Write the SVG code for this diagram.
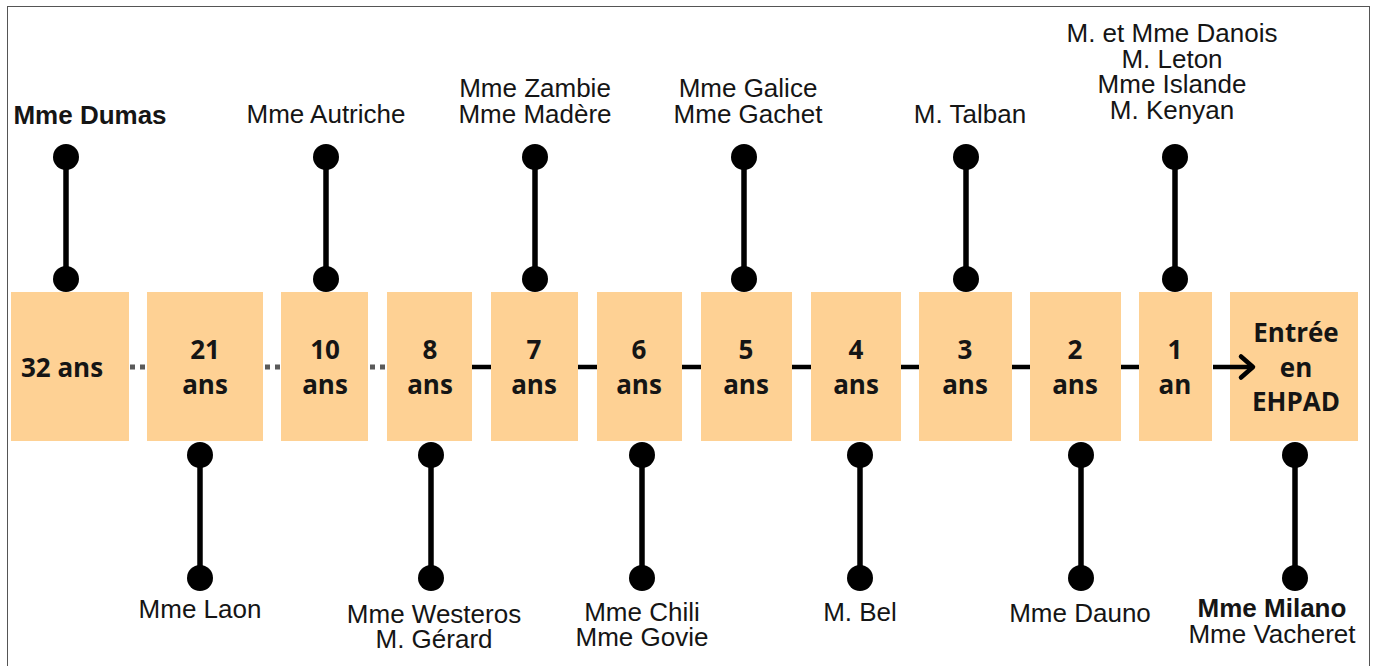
<svg xmlns="http://www.w3.org/2000/svg" width="1376" height="666" viewBox="0 0 1376 666">
<defs>
<style>
.box{fill:#FED194;}
.bt{font-family:"Open Sans","DejaVu Sans",sans-serif;font-weight:700;font-size:26px;fill:#151515;text-anchor:middle;}
.lbl{font-family:"Liberation Sans",Arial,sans-serif;font-size:26px;fill:#151515;text-anchor:middle;}
.b{font-weight:700;}
.stem{stroke:#000;stroke-width:5.5;}
.dot{fill:#000;}
.solid{stroke:#000;stroke-width:4.5;fill:none;}
.dots{stroke:#5a5a5a;stroke-width:5;stroke-dasharray:5 5;fill:none;}
</style>
</defs>
<rect x="0" y="0" width="1376" height="666" fill="#fff"/>
<rect x="7.5" y="6.5" width="1362" height="700" fill="none" stroke="#555" stroke-width="1"/>

<g id="pins">
<g id="pin-dumas"><line class="stem" x1="66" y1="157" x2="66" y2="279"/><circle class="dot" cx="66" cy="157" r="13"/><circle class="dot" cx="66" cy="279" r="13"/></g>
<g id="pin-autriche"><line class="stem" x1="326" y1="157" x2="326" y2="279"/><circle class="dot" cx="326" cy="157" r="13"/><circle class="dot" cx="326" cy="279" r="13"/></g>
<g id="pin-zambie"><line class="stem" x1="535" y1="157" x2="535" y2="279"/><circle class="dot" cx="535" cy="157" r="13"/><circle class="dot" cx="535" cy="279" r="13"/></g>
<g id="pin-galice"><line class="stem" x1="744" y1="157" x2="744" y2="279"/><circle class="dot" cx="744" cy="157" r="13"/><circle class="dot" cx="744" cy="279" r="13"/></g>
<g id="pin-talban"><line class="stem" x1="966" y1="157" x2="966" y2="279"/><circle class="dot" cx="966" cy="157" r="13"/><circle class="dot" cx="966" cy="279" r="13"/></g>
<g id="pin-danois"><line class="stem" x1="1175" y1="157" x2="1175" y2="279"/><circle class="dot" cx="1175" cy="157" r="13"/><circle class="dot" cx="1175" cy="279" r="13"/></g>
<g id="pin-laon"><line class="stem" x1="200" y1="455" x2="200" y2="578"/><circle class="dot" cx="200" cy="455" r="13"/><circle class="dot" cx="200" cy="578" r="13"/></g>
<g id="pin-westeros"><line class="stem" x1="431" y1="455" x2="431" y2="578"/><circle class="dot" cx="431" cy="455" r="13"/><circle class="dot" cx="431" cy="578" r="13"/></g>
<g id="pin-chili"><line class="stem" x1="642" y1="455" x2="642" y2="578"/><circle class="dot" cx="642" cy="455" r="13"/><circle class="dot" cx="642" cy="578" r="13"/></g>
<g id="pin-bel"><line class="stem" x1="860" y1="455" x2="860" y2="578"/><circle class="dot" cx="860" cy="455" r="13"/><circle class="dot" cx="860" cy="578" r="13"/></g>
<g id="pin-dauno"><line class="stem" x1="1081" y1="455" x2="1081" y2="578"/><circle class="dot" cx="1081" cy="455" r="13"/><circle class="dot" cx="1081" cy="578" r="13"/></g>
<g id="pin-milano"><line class="stem" x1="1295" y1="455" x2="1295" y2="578"/><circle class="dot" cx="1295" cy="455" r="13"/><circle class="dot" cx="1295" cy="578" r="13"/></g>
</g>

<g id="n32"><rect class="box" x="11" y="292" width="118" height="149"/><text class="bt" x="62" y="377">32 ans</text></g>
<g id="n21"><rect class="box" x="147" y="292" width="116" height="149"/><text class="bt" x="205" y="359">21</text><text class="bt" x="205" y="394">ans</text></g>
<g id="n10"><rect class="box" x="281" y="292" width="87" height="149"/><text class="bt" x="325" y="359">10</text><text class="bt" x="325" y="394">ans</text></g>
<g id="n8"><rect class="box" x="387" y="292" width="85" height="149"/><text class="bt" x="430" y="359">8</text><text class="bt" x="430" y="394">ans</text></g>
<g id="n7"><rect class="box" x="491" y="292" width="87" height="149"/><text class="bt" x="534" y="359">7</text><text class="bt" x="534" y="394">ans</text></g>
<g id="n6"><rect class="box" x="597" y="292" width="85" height="149"/><text class="bt" x="639" y="359">6</text><text class="bt" x="639" y="394">ans</text></g>
<g id="n5"><rect class="box" x="701" y="292" width="91" height="149"/><text class="bt" x="746" y="359">5</text><text class="bt" x="746" y="394">ans</text></g>
<g id="n4"><rect class="box" x="811" y="292" width="90" height="149"/><text class="bt" x="856" y="359">4</text><text class="bt" x="856" y="394">ans</text></g>
<g id="n3"><rect class="box" x="919" y="292" width="93" height="149"/><text class="bt" x="965" y="359">3</text><text class="bt" x="965" y="394">ans</text></g>
<g id="n2"><rect class="box" x="1030" y="292" width="91" height="149"/><text class="bt" x="1075" y="359">2</text><text class="bt" x="1075" y="394">ans</text></g>
<g id="n1"><rect class="box" x="1139" y="292" width="73" height="149"/><text class="bt" x="1175" y="359">1</text><text class="bt" x="1175" y="394">an</text></g>
<g id="nEHPAD"><rect class="box" x="1230" y="292" width="128" height="149"/><text class="bt" x="1296" y="342">Entrée</text><text class="bt" x="1296" y="377">en</text><text class="bt" x="1296" y="411">EHPAD</text></g>

<g id="connectors">
<line class="dots" x1="130" y1="367" x2="147" y2="367"/>
<line class="dots" x1="265" y1="367" x2="281" y2="367"/>
<line class="dots" x1="370" y1="367" x2="387" y2="367"/>
<line class="solid" x1="472" y1="367" x2="491" y2="367"/>
<line class="solid" x1="578" y1="367" x2="597" y2="367"/>
<line class="solid" x1="682" y1="367" x2="701" y2="367"/>
<line class="solid" x1="792" y1="367" x2="811" y2="367"/>
<line class="solid" x1="901" y1="367" x2="919" y2="367"/>
<line class="solid" x1="1012" y1="367" x2="1030" y2="367"/>
<line class="solid" x1="1121" y1="367" x2="1139" y2="367"/>
<line class="solid" x1="1213" y1="367" x2="1252" y2="367"/>
<path class="solid" d="M1241 356.5 L1253 367 L1241 377.5" stroke-linecap="round" stroke-linejoin="round"/>
</g>

<g id="labels">
<text class="lbl b" x="90" y="124">Mme Dumas</text>
<text class="lbl" x="326" y="123">Mme Autriche</text>
<text class="lbl" x="535" y="97">Mme Zambie</text>
<text class="lbl" x="535" y="123">Mme Madère</text>
<text class="lbl" x="748" y="97">Mme Galice</text>
<text class="lbl" x="748" y="123">Mme Gachet</text>
<text class="lbl" x="970" y="123">M. Talban</text>
<text class="lbl" x="1172" y="42">M. et Mme Danois</text>
<text class="lbl" x="1172" y="68">M. Leton</text>
<text class="lbl" x="1172" y="93">Mme Islande</text>
<text class="lbl" x="1172" y="119">M. Kenyan</text>
<text class="lbl" x="200" y="618">Mme Laon</text>
<text class="lbl" x="434" y="623">Mme Westeros</text>
<text class="lbl" x="434" y="648">M. Gérard</text>
<text class="lbl" x="642" y="621">Mme Chili</text>
<text class="lbl" x="642" y="646">Mme Govie</text>
<text class="lbl" x="860" y="621">M. Bel</text>
<text class="lbl" x="1080" y="622">Mme Dauno</text>
<text class="lbl b" x="1272" y="617">Mme Milano</text>
<text class="lbl" x="1272" y="643">Mme Vacheret</text>
</g>
</svg>
